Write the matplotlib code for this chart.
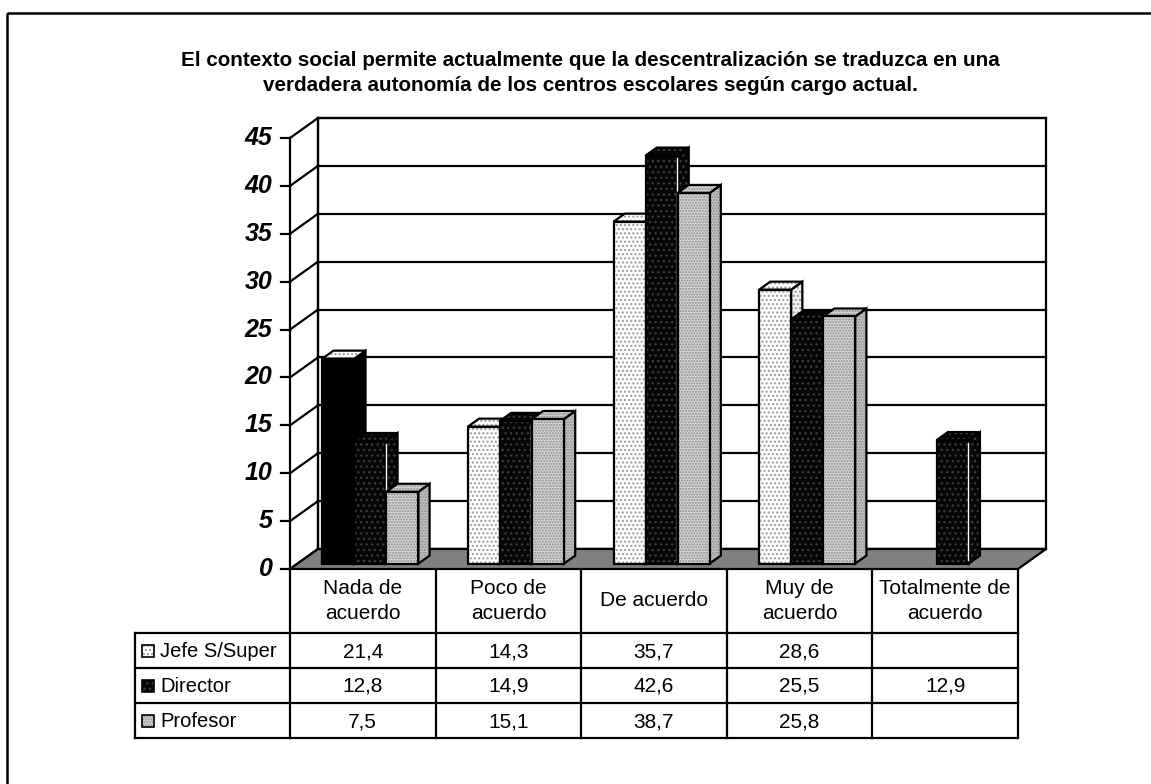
import matplotlib.pyplot as plt
from matplotlib.patches import Polygon, Rectangle

plt.rcParams['font.family'] = ['Liberation Sans', 'DejaVu Sans']

titulo = ('El contexto social permite actualmente que la descentralización se traduzca en una\n'
          'verdadera autonomía de los centros escolares según cargo actual.')
categorias = ['Nada de\nacuerdo', 'Poco de\nacuerdo', 'De acuerdo', 'Muy de\nacuerdo',
              'Totalmente de\nacuerdo']
series = ['Jefe S/Super', 'Director', 'Profesor']
jefe = [21.4, 14.3, 35.7, 28.6, None]
director = [12.8, 14.9, 42.6, 25.5, 12.9]
profesor = [7.5, 15.1, 38.7, 25.8, None]
valores = [jefe, director, profesor]
yticks = [0, 5, 10, 15, 20, 25, 30, 35, 40, 45]

# relleno de cada serie: (cara, lateral, trama, color de trama)
estilos = [
    ('#ffffff', '#f2f2f2', '....', '#9a9a9a'),
    ('#060606', '#060606', '...', '#3c3c3c'),
    ('#d4d4d4', '#c4c4c4', '......', '#8c8c8c'),
]

W, H = 1151, 784
fig = plt.figure(figsize=(W / 100, H / 100), dpi=100)

# capa de fondo en pixeles: marco, titulo y tabla de datos
bg = fig.add_axes([0, 0, 1, 1])
bg.set_xlim(0, W)
bg.set_ylim(H, 0)
bg.axis('off')

# ejes del grafico: x = categoria, y = porcentaje
x0, x1, y0, y1 = 290, 1018, 569, 138
ax = fig.add_axes([x0 / W, 1 - y0 / H, (x1 - x0) / W, (y0 - y1) / H])
ax.set_xlim(0, len(categorias))
ax.set_ylim(0, 45)
ax.axis('off')

# profundidad del efecto 3D en unidades de datos
DX = 28 / ((x1 - x0) / len(categorias))
DY = 20 / ((y0 - y1) / 45)
LW = 1.6

def poly(pts, fc, hatch=None, hc=None, z=2, lw=LW):
    if hatch:
        ax.add_patch(Polygon(pts, closed=True, facecolor=fc, hatch=hatch,
                             edgecolor=hc, lw=0, zorder=z, clip_on=False))
        ax.add_patch(Polygon(pts, closed=True, fill=False, edgecolor='black',
                             lw=lw, zorder=z, clip_on=False, joinstyle='miter'))
    else:
        ax.add_patch(Polygon(pts, closed=True, facecolor=fc, edgecolor='black',
                             lw=lw, zorder=z, clip_on=False, joinstyle='miter'))

def linea(xs, ys, z=1.5, lw=LW, color='black'):
    ax.plot(xs, ys, color=color, lw=lw, zorder=z, clip_on=False,
            solid_capstyle='projecting')

n = len(categorias)

# pared del fondo y pared izquierda
poly([(DX, DY), (n + DX, DY), (n + DX, 45 + DY), (DX, 45 + DY)], 'white', z=1)
for t in yticks:
    linea([DX, n + DX], [t + DY, t + DY])
    linea([0, DX], [t, t + DY])
    linea([-0.06, 0], [t, t])
linea([0, 0], [0, 45])
linea([DX, DX], [DY, 45 + DY])
for t in yticks:
    ax.text(-0.12, t, str(t), ha='right', va='center', fontsize=18,
            fontweight='bold', fontstyle='italic')

# suelo gris
poly([(0, 0), (n, 0), (n + DX, DY), (DX, DY)], '#808080', z=1.8)

# barras 3D
w = 0.22
d0, dd = 0.27, 0.40
for i in range(n):
    for j, vals in enumerate(valores):
        v = vals[i]
        if v is None:
            continue
        fc, sc, hatch, hc = estilos[j]
        hf = hatch
        if i == 0 and j == 0:
            # la primera barra de Jefe sale en negro liso
            fc, sc, hf = '#000000', '#000000', None
        xl = i + 0.5 + (j - 1.5) * w + d0 * DX
        xr = xl + w
        b = d0 * DY
        t = v + d0 * DY
        ex, ey = dd * DX, dd * DY
        z = 3 + i + 0.1 * j
        poly([(xr, b), (xr + ex, b + ey), (xr + ex, t + ey), (xr, t)], sc, hf, hc, z)
        poly([(xl, t), (xl + ex, t + ey), (xr + ex, t + ey), (xr, t)],
             estilos[j][0], hatch, hc, z)
        poly([(xl, b), (xr, b), (xr, t), (xl, t)], fc, hf, hc, z)
        if j == 1:
            linea([xr - 0.004, xr - 0.004], [b + 0.4, t - 0.3], z=z + 0.05,
                  lw=1.0, color='white')

# tabla de datos
cols = [x0 + k * (x1 - x0) / n for k in range(n + 1)]
filas = [633, 668, 703, 738]
xleg = 135
kw = dict(color='black', lw=LW, solid_capstyle='projecting')
for cx in cols:
    bg.plot([cx, cx], [y0, filas[-1]], **kw)
bg.plot([xleg, xleg], [filas[0], filas[-1]], **kw)
for fy in filas:
    bg.plot([xleg, x1], [fy, fy], **kw)

for i, cat in enumerate(categorias):
    cx = (cols[i] + cols[i + 1]) / 2
    bg.text(cx, (y0 + filas[0]) / 2 + 0, cat, ha='center', va='center',
            fontsize=15, linespacing=1.42)

for j, nombre in enumerate(series):
    cy = (filas[j] + filas[j + 1]) / 2
    fc, sc, hatch, hc = estilos[j]
    bg.add_patch(Rectangle((142, cy - 6), 12, 12, facecolor=fc, hatch=hatch,
                           edgecolor=hc, lw=0))
    bg.add_patch(Rectangle((142, cy - 6), 12, 12, fill=False, edgecolor='black', lw=1.2))
    bg.text(160, cy + 1, nombre, ha='left', va='center', fontsize=14.5)
    for i, v in enumerate(valores[j]):
        if v is None:
            continue
        cx = (cols[i] + cols[i + 1]) / 2
        bg.text(cx, cy + 1, f'{v:.1f}'.replace('.', ','), ha='center', va='center',
                fontsize=15)

# titulo y marco exterior
bg.text(590, 73, titulo, ha='center', va='center', fontsize=14.9,
        fontweight='bold', linespacing=1.42)
bg.add_patch(Rectangle((7, 13), W + 20, H + 20, fill=False, edgecolor='black', lw=1.8))

fig.savefig('out.png', dpi=100)
